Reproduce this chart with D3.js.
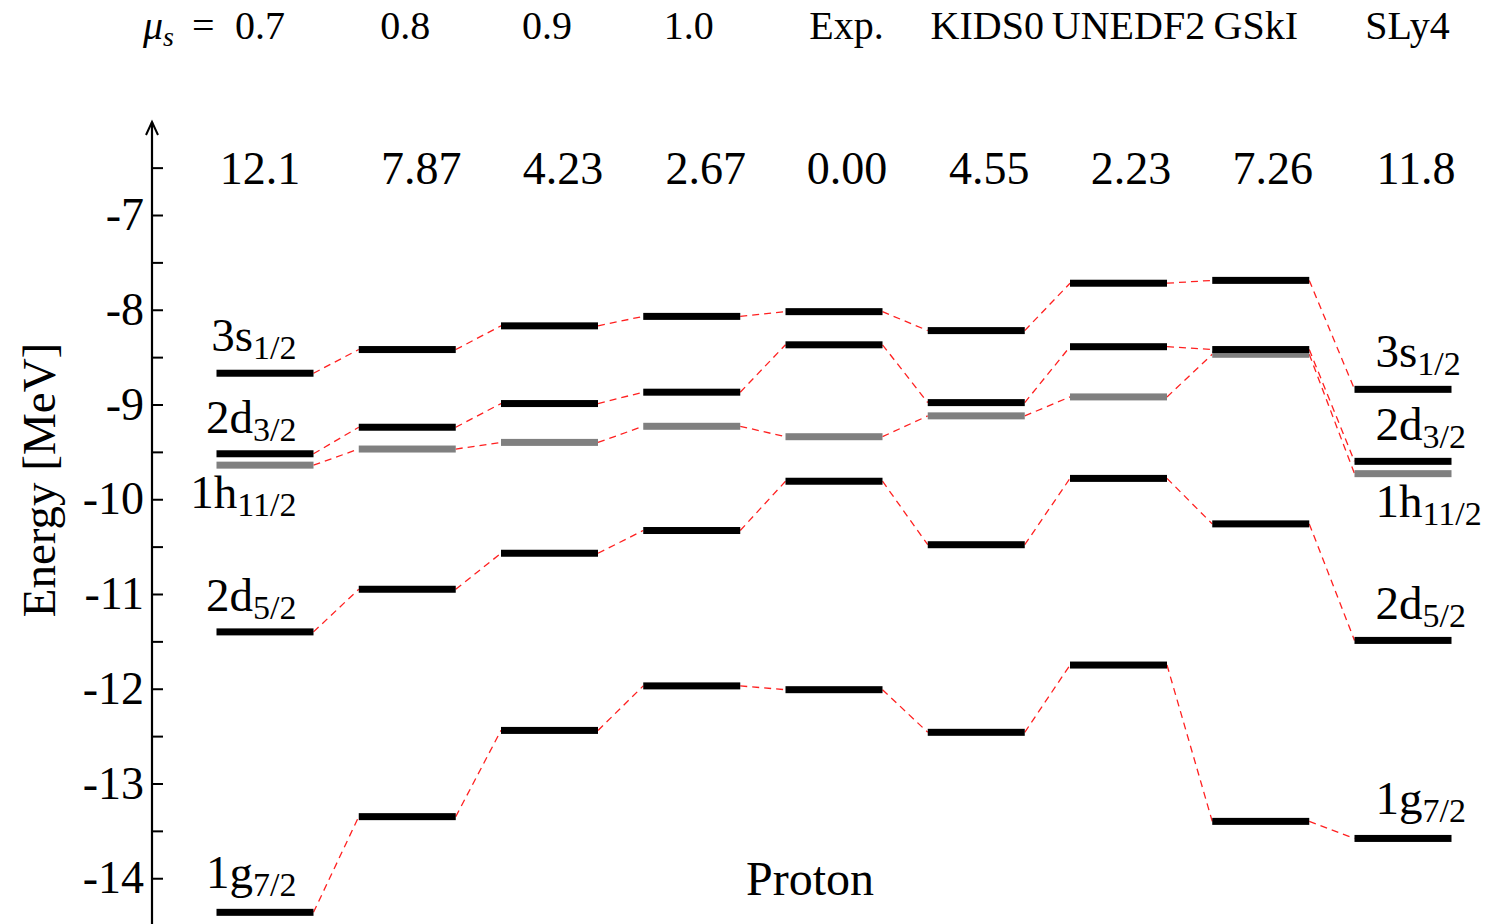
<!doctype html>
<html lang="en">
<head>
<meta charset="utf-8">
<title>Proton single-particle levels</title>
<script src="https://cdnjs.cloudflare.com/ajax/libs/d3/7.8.5/d3.min.js"></script>
<style>
  body { margin: 0; background: #fff; }
  text { font-family: "Liberation Serif", "DejaVu Serif", serif; fill: #000; }
</style>
</head>
<body>
<svg width="1499" height="924" id="svg"></svg>
<script>

// ---- data ----
var columns    = ["0.7", "0.8", "0.9", "1.0", "Exp.", "KIDS0", "UNEDF2", "GSkI", "SLy4"];
var deviations = ["12.1", "7.87", "4.23", "2.67", "0.00", "4.55", "2.23", "7.26", "11.8"];

var levelNames = ["3s", "2d", "1h", "2d", "1g"];
var levelSubs  = ["1/2", "3/2", "11/2", "5/2", "7/2"];

var s1_2  = [-8.67, -8.42, -8.17, -8.07, -8.02, -8.22, -7.72, -7.69, -8.84];
var d3_2  = [-9.52, -9.24, -8.99, -8.87, -8.37, -8.98, -8.39, -8.42, -9.60];
var h11_2 = [-9.64, -9.47, -9.40, -9.23, -9.34, -9.12, -8.92, -8.47, -9.73];
var d5_2  = [-11.40, -10.95, -10.57, -10.33, -9.81, -10.48, -9.78, -10.26, -11.49];
var g7_2  = [-14.36, -13.35, -12.44, -11.97, -12.01, -12.46, -11.75, -13.40, -13.58];

var levels = [s1_2, d3_2, h11_2, d5_2, g7_2];
var grayLevel = 2;  // 1h11/2 drawn in gray

var yTicks = [-14, -13.5, -13, -12.5, -12, -11.5, -11, -10.5, -10, -9.5, -9, -8.5, -8, -7.5, -7, -6.5];

// ---- layout ----
var halfBar = 48.5, barH = 7;
var topShift = [-5, -2, -2.5, -3, 12.5, 11, 10, -5, 4.5];
var numShift = [-5, 14, 13.5, 14, 13, 13, 12.5, 12, 13];
var labelDy  = [-22, -21, 43, -21, -24];

var svg = d3.select('#svg');

var x = d3.scalePoint()
  .domain(columns)
  .range([265, 1403]);

var y = d3.scaleLinear()
  .domain([-14.5, -6.05])
  .range([925.6, 125]);

var axisX = 152;

// y axis (ticks point right, labels on the left)
var axis = svg.append('g')
  .attr('transform', 'translate(' + axisX + ',0)')
  .call(d3.axisLeft(y)
    .tickValues(yTicks)
    .tickSizeInner(-11)
    .tickSizeOuter(0)
    .tickPadding(8)
    .tickFormat(function(d) { return Number.isInteger(d) ? String(d) : ''; }));

axis.select('.domain').remove();
axis.selectAll('.tick line').attr('stroke', '#000').attr('stroke-width', 2);
axis.selectAll('.tick text')
  .style('font-family', '"Liberation Serif", serif')
  .style('font-size', '46px')
  .attr('fill', '#000');

// axis line with arrow head
var yTop = y.range()[1] - 3;
svg.append('line')
  .attr('x1', axisX).attr('x2', axisX)
  .attr('y1', y.range()[0]).attr('y2', yTop)
  .attr('stroke', '#000').attr('stroke-width', 2.2);
svg.append('path')
  .attr('d', 'M' + (axisX - 6) + ',' + (yTop + 13) + 'L' + axisX + ',' + yTop + 'L' + (axisX + 6) + ',' + (yTop + 13))
  .attr('fill', 'none').attr('stroke', '#000').attr('stroke-width', 2);

// y title
svg.append('text')
  .attr('transform', 'translate(55,480) rotate(-90)')
  .attr('text-anchor', 'middle')
  .style('font-size', '47px')
  .text('Energy [MeV]');

// connectors
levels.forEach(function(vals, li) {
  var segs = d3.pairs(vals.map(function(v, i) { return [columns[i], v]; }));
  svg.append('g').selectAll('line')
    .data(segs)
    .enter()
    .append('line')
    .attr('x1', function(d) { return x(d[0][0]) + halfBar; })
    .attr('y1', function(d) { return y(d[0][1]); })
    .attr('x2', function(d) { return x(d[1][0]) - halfBar; })
    .attr('y2', function(d) { return y(d[1][1]); })
    .attr('stroke', '#ff2020')
    .attr('stroke-width', 1.3)
    .attr('stroke-dasharray', '7,5');
});

// bars, gray first so the black ones sit on top
var order = [grayLevel].concat(d3.range(levels.length).filter(function(i) { return i !== grayLevel; }));
order.forEach(function(li) {
  svg.append('g').selectAll('rect')
    .data(levels[li])
    .enter()
    .append('rect')
    .attr('x', function(d, i) { return x(columns[i]) - halfBar; })
    .attr('y', function(d) { return y(d) - barH / 2; })
    .attr('width', halfBar * 2)
    .attr('height', barH)
    .attr('fill', li === grayLevel ? '#808080' : '#000');
});

// column headers
svg.append('g').selectAll('text')
  .data(columns)
  .enter()
  .append('text')
  .attr('x', function(d, i) { return x(d) + topShift[i]; })
  .attr('y', 39)
  .attr('text-anchor', 'middle')
  .style('font-size', '40px')
  .text(function(d) { return d; });

var mu = svg.append('text')
  .attr('x', 143)
  .attr('y', 39)
  .style('font-size', '40px');
mu.append('tspan').style('font-style', 'italic').text('\u03bc');
mu.append('tspan').style('font-style', 'italic').style('font-size', '28px').attr('dy', 7).text('s');
mu.append('tspan').attr('dy', -7).attr('dx', 18).text('=');

// deviation numbers
svg.append('g').selectAll('text')
  .data(deviations)
  .enter()
  .append('text')
  .attr('x', function(d, i) { return x(columns[i]) + numShift[i]; })
  .attr('y', 184)
  .attr('text-anchor', 'middle')
  .style('font-size', '46px')
  .text(function(d) { return d; });

// level labels on both sides
function levelLabel(col, anchor, xpos) {
  levels.forEach(function(vals, li) {
    var t = svg.append('text')
      .attr('x', xpos)
      .attr('y', y(vals[col]) + labelDy[li])
      .attr('text-anchor', anchor)
      .style('font-size', '47px');
    t.append('tspan').text(levelNames[li]);
    t.append('tspan').style('font-size', '34px').attr('dy', 8).text(levelSubs[li]);
  });
}
levelLabel(0, 'end', x(columns[0]) + halfBar - 17);
levelLabel(columns.length - 1, 'start', x(columns[columns.length - 1]) - halfBar + 21);

// title
svg.append('text')
  .attr('x', 810)
  .attr('y', 895)
  .attr('text-anchor', 'middle')
  .style('font-size', '48px')
  .text('Proton');

</script>
</body>
</html>
